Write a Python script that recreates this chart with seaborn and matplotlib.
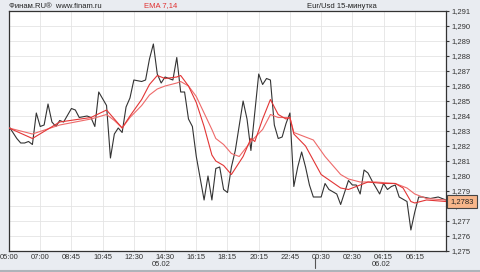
import matplotlib
matplotlib.use("Agg")
import matplotlib.pyplot as plt
import matplotlib.transforms as mtransforms
from matplotlib.lines import Line2D
import seaborn as sns
import pandas as pd

# ---- data (bar index, value) ----
close_idx = [0, 2, 3, 4, 5, 6, 7, 8, 9, 10, 11, 12, 13, 14, 16, 17, 18, 20, 21, 22,
             23, 25, 26, 27, 28, 29, 30, 31, 32, 34, 35, 36, 37, 38, 39, 40, 41, 42,
             43, 44, 45, 46, 47, 48, 50, 51, 52, 53, 54, 55, 56, 57, 58, 60, 61, 62,
             64, 65, 66, 67, 68, 69, 70, 71, 72, 73, 74, 75, 76, 77, 78, 80, 81, 82,
             84, 85, 87, 88, 89, 90, 91, 92, 93, 95, 96, 97, 98, 99, 100, 102, 103,
             104, 105, 106, 108, 110, 112]
close_val = [1.2833, 1.2825, 1.2822, 1.2822, 1.2823, 1.2821, 1.2842, 1.2833, 1.2834,
             1.2848, 1.2836, 1.2833, 1.2837, 1.2836, 1.2845, 1.2844, 1.2839, 1.2840,
             1.2839, 1.2833, 1.2856, 1.2847, 1.2812, 1.2828, 1.2832, 1.2829, 1.2846,
             1.2852, 1.2864, 1.2863, 1.2864, 1.2878, 1.2888, 1.2868, 1.2862, 1.2866,
             1.2865, 1.2864, 1.2879, 1.2856, 1.2856, 1.2838, 1.2833, 1.2813, 1.2784,
             1.2800, 1.2784, 1.2805, 1.2806, 1.2791, 1.2789, 1.2806, 1.2817, 1.2850,
             1.2838, 1.2817, 1.2868, 1.2861, 1.2865, 1.2864, 1.2834, 1.2825, 1.2826,
             1.2835, 1.2842, 1.2793, 1.2806, 1.2816, 1.2806, 1.2794, 1.2786, 1.2786,
             1.2795, 1.2791, 1.2788, 1.2781, 1.2797, 1.2794, 1.2794, 1.2788, 1.2804,
             1.2802, 1.2797, 1.2788, 1.2795, 1.2791, 1.2793, 1.2794, 1.2786, 1.2783,
             1.2764, 1.2776, 1.2786, 1.2786, 1.2785, 1.2786, 1.2784]

ema7_idx = [0, 6, 13, 21, 25, 27, 29, 31, 34, 36, 38, 40, 43, 44, 46, 48, 50, 52, 53,
            55, 57, 60, 62, 63, 65, 67, 69, 71, 72, 73, 76, 80, 85, 87, 90, 92, 96,
            99, 101, 103, 104, 107, 112]
ema7_val = [1.2832, 1.2825, 1.2836, 1.2839, 1.2844, 1.2838, 1.2832, 1.2840, 1.2851,
            1.2861, 1.2867, 1.2865, 1.2866, 1.2867, 1.2860, 1.2849, 1.2833, 1.2814,
            1.2810, 1.2807, 1.2801, 1.2813, 1.2825, 1.2823, 1.2838, 1.2851, 1.2841,
            1.2838, 1.2839, 1.2828, 1.2820, 1.2801, 1.2792, 1.2791, 1.2794, 1.2796,
            1.2795, 1.2795, 1.2792, 1.2783, 1.2782, 1.2784, 1.2783]

ema14_idx = [0, 6, 13, 21, 25, 27, 29, 31, 34, 36, 38, 40, 43, 44, 46, 48, 50, 52, 53,
             55, 57, 59, 62, 65, 67, 69, 72, 73, 78, 81, 85, 87, 90, 94, 99, 102, 104,
             107, 112]
ema14_val = [1.2832, 1.2828, 1.2834, 1.2838, 1.2841, 1.2837, 1.2832, 1.2839, 1.2847,
             1.2854, 1.2858, 1.2860, 1.2862, 1.2863, 1.2860, 1.2853, 1.2842, 1.2831,
             1.2825, 1.2821, 1.2815, 1.2813, 1.2823, 1.2831, 1.2841, 1.2839, 1.2839,
             1.2829, 1.2824, 1.2813, 1.2801, 1.2798, 1.2796, 1.2796, 1.2795, 1.2792,
             1.2788, 1.2785, 1.2784]

x_tick_pos = [0, 8, 16, 24, 32, 40, 48, 56, 64, 72, 80, 88, 96, 104]
x_tick_labels = ["05:00", "07:00", "08:45", "10:45", "12:30", "14:30", "16:15",
                 "18:15", "20:15", "22:45", "00:30", "02:30", "04:15", "06:15"]
y_ticks = [1.275, 1.276, 1.277, 1.278, 1.279, 1.280, 1.281, 1.282, 1.283, 1.284,
           1.285, 1.286, 1.287, 1.288, 1.289, 1.290, 1.291]
day_labels = ["05.02", "06.02"]
day_label_pos = [39, 95.5]
day_break = 78.5
last_price = 1.2783
n_bars = 112

# ---- style ----
sns.set_theme(style="white")
plt.rcParams['font.family'] = ['Liberation Sans', 'DejaVu Sans']
FS = 5.5

fig = plt.figure(figsize=(4.8, 2.72), dpi=100, facecolor='#e9ecf1')
ax = fig.add_axes([9 / 480, 21 / 272, 437 / 480, 240 / 272])
ax.set_facecolor('white')

df_close = pd.DataFrame({'bar': close_idx, 'price': close_val})
df_e7 = pd.DataFrame({'bar': ema7_idx, 'price': ema7_val})
df_e14 = pd.DataFrame({'bar': ema14_idx, 'price': ema14_val})

sns.lineplot(data=df_close, x='bar', y='price', ax=ax, color='#333333',
             linewidth=0.8, estimator=None, zorder=3)
sns.lineplot(data=df_e14, x='bar', y='price', ax=ax, color='#ee6a6a',
             linewidth=0.8, estimator=None, zorder=4)
sns.lineplot(data=df_e7, x='bar', y='price', ax=ax, color='#e23535',
             linewidth=0.8, estimator=None, zorder=5)

ax.set_xlim(0, n_bars)
ax.set_ylim(y_ticks[0], y_ticks[-1])
ax.set_xlabel('')
ax.set_ylabel('')
ax.set_xticks(x_tick_pos)
ax.set_xticklabels(x_tick_labels)
ax.yaxis.tick_right()
ax.set_yticks(y_ticks)
ax.set_yticklabels([f"{v:.3f}".replace('.', ',') for v in y_ticks])
ax.tick_params(axis='y', length=2.5, width=0.8, color='#333333', pad=1.5,
               labelsize=FS, labelcolor='#333333', right=True, left=False)
ax.tick_params(axis='x', length=0, pad=2.5, labelsize=FS, labelcolor='#333333')
ax.grid(True, color='#e4e4e4', linewidth=0.6)
ax.set_axisbelow(True)
for sp in ax.spines.values():
    sp.set_visible(True)
    sp.set_color('#333333')
    sp.set_linewidth(0.9)

# price box
blend_y = mtransforms.blended_transform_factory(ax.transAxes, ax.transData)
ax.text(1.0095, last_price, f"{last_price:.4f}".replace('.', ','), transform=blend_y,
        ha='left', va='center', fontsize=FS, color='#222222', zorder=10, clip_on=False,
        bbox=dict(boxstyle='square,pad=0.42', fc='#f7b68a', ec='#444444', lw=0.8))

# dates under axis
blend_x = mtransforms.blended_transform_factory(ax.transData, fig.transFigure)
for lab, pos in zip(day_labels, day_label_pos):
    ax.text(pos, 1 - 264 / 272, lab, transform=blend_x, ha='center', va='center',
            fontsize=FS, color='#333333', clip_on=False)
ax.plot([day_break, day_break], [1 - 258 / 272, 1 - 268 / 272], transform=blend_x,
        color='#555555', lw=0.8, clip_on=False)

# header texts
fig.text(9 / 480, 1 - 6 / 272, "Финам.RU®  www.finam.ru", fontsize=FS,
         va='center', ha='left', color='#222222')
fig.text(144 / 480, 1 - 6 / 272, "EMA 7,14", fontsize=FS, va='center', ha='left',
         color='#e03030')
fig.text(307 / 480, 1 - 6 / 272, "Eur/Usd 15-минутка", fontsize=FS, va='center',
         ha='left', color='#222222')

fig.add_artist(Line2D([0, 1], [1.5 / 272, 1.5 / 272], transform=fig.transFigure,
                      color='#aeb3ba', lw=1.5))

fig.savefig("out.png", dpi=100, facecolor=fig.get_facecolor())
